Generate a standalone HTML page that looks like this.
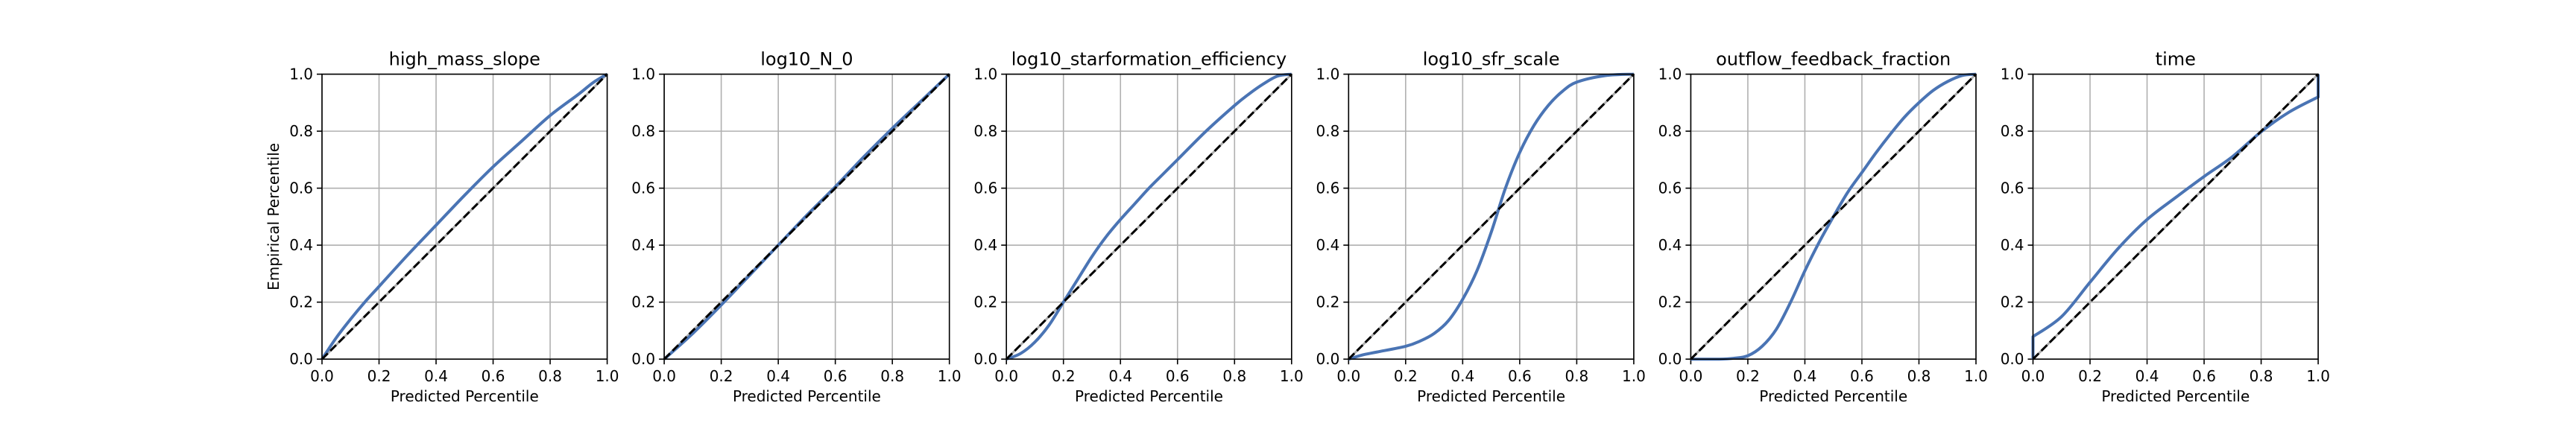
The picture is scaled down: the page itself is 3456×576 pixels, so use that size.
<!DOCTYPE html>
<html><head><meta charset="utf-8"><style>
html,body{margin:0;padding:0;background:#fff;}
svg{display:block;font-family:"DejaVu Sans","Liberation Sans",sans-serif;}
</style></head><body>
<svg id="fig" width="3456" height="576" viewBox="0 0 3456 576" xmlns="http://www.w3.org/2000/svg"></svg>
<script>
const titles = ["high_mass_slope","log10_N_0","log10_starformation_efficiency","log10_sfr_scale","outflow_feedback_fraction","time"];
const ticks = [0,0.2,0.4,0.6,0.8,1.0];
const tickLabels = ["0.0","0.2","0.4","0.6","0.8","1.0"];
const xs1 = [0,0.05,0.1,0.15,0.2,0.3,0.4,0.5,0.6,0.7,0.8,0.9,0.95,1];
const ys1 = [0,0.075,0.14,0.2,0.255,0.365,0.47,0.575,0.675,0.765,0.855,0.93,0.97,1];
const xs2 = [0,0.1,0.2,0.3,0.4,0.5,0.6,0.7,0.8,0.9,1];
const ys2 = [0,0.09,0.19,0.295,0.4,0.505,0.605,0.71,0.81,0.905,1];
const xs3 = [0,0.05,0.1,0.15,0.2,0.25,0.3,0.35,0.4,0.45,0.5,0.55,0.6,0.7,0.8,0.85,0.9,0.95,1];
const ys3 = [0,0.02,0.06,0.12,0.2,0.28,0.36,0.43,0.49,0.545,0.6,0.65,0.7,0.8,0.89,0.93,0.965,0.993,1];
const xs4 = [0,0.05,0.1,0.2,0.25,0.3,0.35,0.4,0.45,0.5,0.55,0.6,0.65,0.7,0.75,0.8,0.9,1];
const ys4 = [0,0.015,0.025,0.045,0.063,0.09,0.135,0.21,0.31,0.445,0.6,0.725,0.82,0.89,0.94,0.972,0.995,1];
const xs5 = [0,0.1,0.15,0.2,0.25,0.3,0.35,0.4,0.45,0.5,0.55,0.6,0.65,0.7,0.75,0.8,0.85,0.9,0.95,1];
const ys5 = [0,0,0.003,0.012,0.045,0.105,0.2,0.31,0.41,0.5,0.585,0.655,0.725,0.79,0.85,0.9,0.943,0.974,0.995,1];
const xs6 = [0,0,0.1,0.2,0.3,0.4,0.5,0.6,0.7,0.8,0.9,1,1];
const ys6 = [0,0.079,0.149,0.27,0.39,0.49,0.567,0.641,0.711,0.798,0.868,0.92,1];
const seriesX = [xs1,xs2,xs3,xs4,xs5,xs6];
const seriesY = [ys1,ys2,ys3,ys4,ys5,ys6];

const NS="http://www.w3.org/2000/svg";
const svg=document.getElementById('fig');
function mk(tag,attrs,parent){const e=document.createElementNS(NS,tag);for(const k in attrs)e.setAttribute(k,attrs[k]);(parent||svg).appendChild(e);return e;}
function smoothPath(pts){
  let d='M'+pts[0][0].toFixed(2)+' '+pts[0][1].toFixed(2);
  for(let i=0;i<pts.length-1;i++){
    const p1=pts[i],p2=pts[i+1];
    if(Math.abs(p1[0]-p2[0])<0.01){d+='L'+p2[0].toFixed(2)+' '+p2[1].toFixed(2);continue;}
    let p0=pts[i-1]||p1, p3=pts[i+2]||p2;
    if(Math.abs(p0[0]-p1[0])<0.01)p0=p1;
    if(Math.abs(p3[0]-p2[0])<0.01)p3=p2;
    const c1=[p1[0]+(p2[0]-p0[0])/6,p1[1]+(p2[1]-p0[1])/6];
    const c2=[p2[0]-(p3[0]-p1[0])/6,p2[1]-(p3[1]-p1[1])/6];
    d+='C'+c1[0].toFixed(2)+' '+c1[1].toFixed(2)+' '+c2[0].toFixed(2)+' '+c2[1].toFixed(2)+' '+p2[0].toFixed(2)+' '+p2[1].toFixed(2);
  }
  return d;
}
const L0=432, STEP=459.1, W=382.6, TOP=99.6, BOT=482.2, H=BOT-TOP;
for(let p=0;p<6;p++){
  const left=L0+p*STEP;
  const sx=v=>left+v*W, sy=v=>BOT-v*H;
  const g=mk('g',{});
  
  
  ticks.forEach((t,i)=>{
    const gx=mk('line',{x1:sx(t),x2:sx(t),y1:TOP,y2:BOT,stroke:'#b0b0b0','stroke-width':1.6},g);
    
    
    const gy=mk('line',{x1:left,x2:left+W,y1:sy(t),y2:sy(t),stroke:'#b0b0b0','stroke-width':1.6},g);
    
    
    mk('line',{x1:sx(t),x2:sx(t),y1:BOT,y2:BOT+7,stroke:'#000','stroke-width':1.6},g);
    mk('line',{x1:left-7,x2:left,y1:sy(t),y2:sy(t),stroke:'#000','stroke-width':1.6},g);
    const xl=mk('text',{x:sx(t),y:BOT+30,'font-size':20,'text-anchor':'middle',fill:'#000'},g);
    xl.textContent=tickLabels[i];
    
    
    const yl=mk('text',{x:left-12,y:sy(t)+7,'font-size':20,'text-anchor':'end',fill:'#000'},g);
    yl.textContent=tickLabels[i];
    
    
  });
  const diag0=mk('line',{x1:sx(0),y1:sy(0),x2:sx(1),y2:sy(1),stroke:'#b0b0b0','stroke-width':3},g);
  
  
  const xs=seriesX[p], ys=seriesY[p];
  const pts=xs.map((x,i)=>[sx(x),sy(ys[i])]);
  const cl=mk('path',{d:smoothPath(pts),fill:'none',stroke:'#4a74b4','stroke-width':4,'stroke-linejoin':'round'},g);
  
  
  const diag=mk('line',{x1:sx(0),y1:sy(0),x2:sx(1),y2:sy(1),stroke:'#000','stroke-width':3,'stroke-dasharray':'11 4.8'},g);
  
  
  const fr=mk('rect',{x:left,y:TOP,width:W,height:H,fill:'none',stroke:'#000','stroke-width':1.6},g);
  
  
  const tt=mk('text',{x:left+W/2,y:TOP-12,'font-size':24,'text-anchor':'middle',fill:'#000'},g);
  tt.textContent=titles[p];
  
  
  const xt=mk('text',{x:left+W/2,y:539,'font-size':20,'text-anchor':'middle',fill:'#000'},g);
  xt.textContent='Predicted Percentile';
  
  
  if(p===0){
    const yt=mk('text',{x:0,y:0,'font-size':20,'text-anchor':'middle',fill:'#000',transform:'translate(374 '+(TOP+H/2)+') rotate(-90)'},g);
    yt.textContent='Empirical Percentile';
    
    
  }
}
</script>
</body></html>
